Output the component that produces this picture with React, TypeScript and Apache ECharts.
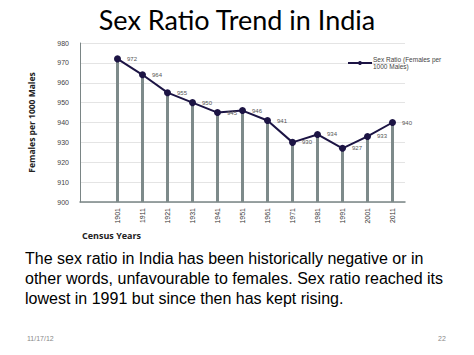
import React, { useEffect, useRef } from "react";
import * as echarts from "echarts";

const years = ["", "1901", "1911", "1921", "1931", "1941", "1951", "1961", "1971", "1981", "1991", "2001", "2011"];
const sexRatio: (number | string)[] = ["-", 972, 964, 955, 950, 945, 946, 941, 930, 934, 927, 933, 940];
const seriesName = "Sex Ratio (Females per\n1000 Males)";
const bodyLines = [
  "The sex ratio in India has been historically negative or in",
  "other words, unfavourable to females. Sex ratio reached its",
  "lowest in 1991 but since then has kept rising.",
];

export default function App() {
  const ref = useRef<HTMLDivElement>(null);
  useEffect(() => {
    const chart = echarts.init(ref.current!, undefined, { renderer: "svg" });
    chart.setOption({
      animation: false,
      backgroundColor: "#ffffff",
      title: {
        text: "Sex Ratio Trend in India",
        left: "center",
        top: 1,
        textStyle: { fontFamily: "Lato", fontWeight: "normal", fontSize: 27, color: "#000" },
      },
      grid: { left: 80, right: 69, top: 43, bottom: 153 },
      legend: {
        left: 342,
        top: 51,
        itemWidth: 24,
        itemHeight: 5,
        itemGap: 0,
        data: [{ name: seriesName }],
        textStyle: { fontSize: 6.5, color: "#444", lineHeight: 7, fontFamily: "Liberation Sans", padding: [0, 0, 0, -4] },
      },
      xAxis: {
        type: "category",
        data: years,
        boundaryGap: true,
        axisLine: { lineStyle: { color: "#7a8585", width: 1.5 } },
        axisTick: { show: false },
        axisLabel: { rotate: 90, fontSize: 7, color: "#333", margin: 6, interval: 0, fontFamily: "Liberation Sans" },
        splitLine: { show: false },
      },
      yAxis: {
        type: "value",
        min: 900,
        max: 980,
        interval: 10,
        name: "Females per 1000 Males",
        nameLocation: "middle",
        nameGap: 44,
        nameTextStyle: { fontSize: 8.5, fontWeight: "bold", color: "#222", fontFamily: "Open Sans" },
        axisLine: { show: true, lineStyle: { color: "#7a8585", width: 1 } },
        axisTick: { show: false },
        axisLabel: { fontSize: 7, color: "#444", margin: 11, fontFamily: "Liberation Sans" },
        splitLine: { lineStyle: { color: "#e4e4e4", width: 1 } },
      },
      series: [
        {
          type: "bar",
          data: sexRatio,
          barWidth: 3,
          barGap: "-100%",
          itemStyle: { color: "#7d8a8a" },
          silent: true,
          legendHoverLink: false,
        },
        {
          name: seriesName,
          type: "line",
          data: sexRatio,
          symbol: "circle",
          symbolSize: 7,
          lineStyle: { color: "#1c1444", width: 2 },
          itemStyle: { color: "#1c1444" },
          label: { show: true, position: "right", distance: 6, fontSize: 6, color: "#555", fontFamily: "Liberation Sans" },
          z: 5,
        },
      ],
      graphic: [
        {
          type: "text",
          left: 82,
          top: 231,
          style: { text: "Census Years", font: "bold 9px 'Open Sans'", fill: "#222" },
        },
        {
          type: "text",
          left: 25,
          top: 248,
          style: {
            text: bodyLines.join("\n"),
            font: "16px 'Liberation Sans'",
            lineHeight: 20,
            fill: "#000",
          },
        },
        {
          type: "text",
          left: 27,
          top: 335,
          style: { text: "11/17/12", font: "7px 'Liberation Sans'", fill: "#888" },
        },
        {
          type: "text",
          left: 438,
          top: 335,
          style: { text: "22", font: "7px 'Liberation Sans'", fill: "#888" },
        },
      ],
    });
    return () => chart.dispose();
  }, []);
  return <div ref={ref} style={{ position: "fixed", left: 0, top: 0, width: 474, height: 355 }} />;
}
